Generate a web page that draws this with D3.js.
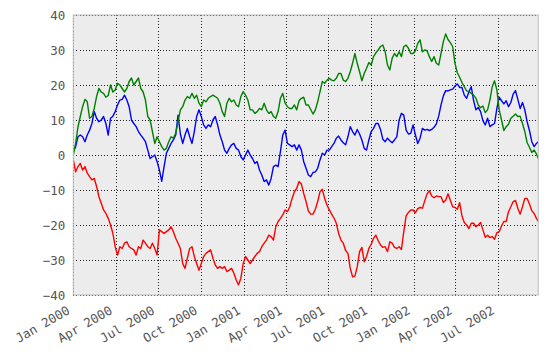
<!DOCTYPE html>
<html>
<head>
<meta charset="utf-8">
<script src="https://cdn.jsdelivr.net/npm/d3@7"></script>
<style>
  html, body { margin: 0; padding: 0; background: #ffffff; }
  svg text { font-family: "DejaVu Sans Mono", "Liberation Mono", monospace; }
</style>
</head>
<body>
<svg id="chart" width="548" height="357"></svg>
<script>
// ---- data (one sample every 5 days, plus the last day) ----
const startDate = "2000-01-01";
const sampleStepDays = 5;
const lastDay = 999;

const blueValues = [
  1, 2.4, 5.2, 5.7, 5.2, 3.8, 5.7, 7.1, 9, 12.4,
  10.5, 9.5, 10, 11, 9, 5.7, 10.5, 11.1, 12.4, 14.3,
  15.7, 15.9, 17.1, 15.7, 13.8, 10, 9, 8.1, 6.7, 5.7,
  4.8, 3.8, 1.4, -1, -0.5, 0, -1.9, -4.3, -7.5, -3.3,
  0.5, 1.9, 3.3, 4.3, 5.7, 11.4, 6, 3.3, 5.7, 7.6,
  5.2, 3.3, 6.7, 11, 12.9, 11, 8.6, 7.6, 8.6, 8.1,
  10, 11, 8.6, 5.7, 3.8, 1.4, 0.5, 1.9, 2.9, 3.3,
  1.9, 1.4, -0.5, -1.4, 0, 1.4, 0, -1, -2.4, -1.9,
  -4.3, -5.7, -7.6, -7.1, -8.6, -6.7, -3.3, -2.9, -3.3, 1,
  5.7, 7.1, 3.3, 2.9, 2.4, 2.9, 1.4, 2.9, 1.4, -1.9,
  -3.8, -5.7, -6.2, -5, -4.8, -3.8, -1.4, 0.5, 0, 1.4,
  1.4, 2.4, 3.3, 4.8, 5.4, 4.3, 3.5, 2.9, 5.2, 8.1,
  6.7, 5.7, 7.3, 6, 4.3, 1.9, 1.4, 4.3, 6.7, 7.6,
  9, 9, 7.3, 4.5, 3.8, 4.8, 4.1, 3.5, 4.3, 5.2,
  10, 11.9, 11.4, 7.1, 6, 6.2, 8.6, 5.7, 3.3, 4.8,
  7.6, 7.1, 7.3, 7, 7.3, 7.9, 8.9, 11.1, 14.3, 16.9,
  18.4, 18.3, 18.6, 18.8, 19.7, 20.3, 19.3, 19.3, 17.1, 16.2,
  18.1, 19.5, 15.5, 12.9, 13.6, 12.4, 9.8, 8.6, 10.5, 8.1,
  8.6, 9, 13.3, 16.5, 15.5, 14.6, 15.5, 13.8, 15, 17.4,
  18.4, 15.9, 13.3, 15, 12.9, 9.5, 7, 3.8, 2.4, 3.3,
  3.8
];

const greenValues = [
  0, 3.3, 8, 11, 13.8, 15.9, 15.2, 10.5, 11, 13.3,
  16.7, 19, 18, 17.6, 16.5, 17, 20, 18, 18.6, 20.5,
  20, 19, 18, 19, 21, 22, 20, 21, 22, 19,
  18, 15.7, 11, 10, 6.7, 3.3, 5.2, 3.8, 2.4, 1.4,
  1.9, 3.8, 5.2, 4.8, 6.2, 9.5, 12.9, 13.8, 15.7, 16.7,
  16.2, 17.6, 16.2, 17.1, 14.8, 13.8, 15.7, 15.2, 16.2, 16.7,
  17.1, 16.7, 16.2, 14.8, 12.4, 11, 14.8, 16.2, 15.2, 15.7,
  14.3, 13.8, 16.7, 18.1, 17.1, 15.7, 12.9, 12.9, 11.9, 12.4,
  13.3, 12.9, 14.8, 12.9, 11.9, 12.4, 11, 10.5, 12.4, 16.2,
  17.6, 14.8, 13.8, 13.3, 13.3, 14.3, 12.9, 15.5, 16.2, 16.5,
  14.3, 14.3, 13, 11.7, 12.9, 15.2, 18.1, 21, 20.5, 21.4,
  21.9, 21.4, 21.2, 21.9, 23.3, 23.3, 21.4, 21, 21.9, 23.8,
  26.2, 29, 26.2, 23.8, 21.2, 23.3, 24.8, 26.4, 25.7, 28.1,
  29.2, 30, 31, 31.4, 29.5, 25.7, 24.3, 27.6, 29, 28.1,
  29.5, 28.1, 31, 31.4, 30.5, 29, 29, 29.8, 31.9, 32.9,
  29.5, 30, 29.8, 28.1, 26.7, 28.1, 26.2, 25.7, 29, 32.4,
  34.6, 33, 32.1, 31, 26.2, 23.5, 22.2, 20.7, 19.5, 18.3,
  18.1, 17.6, 17.1, 16.2, 14.3, 13.5, 14, 12.1, 12.9, 15.7,
  19.5, 21.2, 18.6, 12.9, 10, 7, 8.1, 8.8, 10.5, 11.1,
  11.7, 11, 11.1, 9, 6.7, 3.5, 2.2, 0.7, 1.4, 0.3,
  -1
];

const redValues = [
  -1.4, -4.8, -3.3, -2.4, -4.3, -3.3, -5.2, -6.2, -7.1, -6.7,
  -9, -11.9, -13.8, -15.7, -16.7, -18.1, -20, -22.4, -26.2, -28.6,
  -26.2, -26.7, -25.2, -24.8, -26.2, -26.7, -27.1, -28.6, -26.2, -26.7,
  -24.3, -25.2, -26.2, -26.7, -25.2, -26.7, -28.6, -21.4, -21.9, -22.4,
  -21.9, -21.4, -20.5, -21.9, -23.8, -25.2, -26.7, -31, -32.4, -29.5,
  -26.7, -26.2, -29, -31, -32.9, -31, -29, -28.1, -27.6, -27.1,
  -29.5, -31.4, -32.4, -31.9, -32.4, -31.9, -33.3, -32.9, -32.4, -33.8,
  -35.7, -37.1, -35.2, -31, -29, -30, -31, -30, -29, -28.1,
  -27.6, -26.2, -25.2, -24.3, -22.9, -23.3, -24.3, -20.5, -19, -18.1,
  -17.1, -15.7, -16.2, -14.8, -12.4, -10.5, -9.5, -7.6, -8.3, -11,
  -13.3, -16, -16.9, -16.9, -15.5, -13.3, -10.5, -9.8, -12.4, -14.3,
  -15.7, -16.9, -18, -19.5, -22.4, -24.3, -25.2, -27.3, -28.1, -32.4,
  -34.8, -34.6, -31.9, -27.6, -26.4, -30.5, -29, -26.7, -25.5, -23.8,
  -22.9, -24.5, -25.7, -26.4, -26.2, -27.6, -24.8, -25.2, -26.4, -26.7,
  -26.2, -27, -21.9, -17.4, -16.4, -15.7, -15.7, -16.5, -15.3, -15,
  -15.2, -13.1, -11.1, -10.2, -11.7, -12.2, -11.7, -11.9, -11.9, -13.6,
  -12.9, -11.1, -12.9, -14.8, -15, -15.5, -13.6, -17.4, -19.3, -20,
  -21, -19.5, -19.5, -20.5, -20, -19.3, -21.4, -23.5, -22.9, -23.6,
  -23.3, -24.1, -22.2, -21.9, -20.3, -19, -19, -16.2, -14.8, -13.3,
  -13, -15.2, -16.9, -14.8, -12.4, -12.4, -14, -15.9, -16.7, -18.1,
  -19
];

const yTickValues = [-40, -30, -20, -10, 0, 10, 20, 30, 40];
const xTickDates = ["2000-01-01", "2000-04-01", "2000-07-01", "2000-10-01",
                    "2001-01-01", "2001-04-01", "2001-07-01", "2001-10-01",
                    "2002-01-01", "2002-04-01", "2002-07-01"];
const xTickLabels = ["Jan 2000", "Apr 2000", "Jul 2000", "Oct 2000",
                     "Jan 2001", "Apr 2001", "Jul 2001", "Oct 2001",
                     "Jan 2002", "Apr 2002", "Jul 2002"];

// ---- layout / style ----
const plot = { left: 73.3, right: 538.3, top: 15, bottom: 295 };
const colors = { blue: "#0000ff", green: "#008000", red: "#ff0000" };

const svg = d3.select("#chart");
const parse = d3.utcParse("%Y-%m-%d");
const start = parse(startDate);

const sampleDays = d3.range(0, lastDay + 1, sampleStepDays).filter(d => d <= lastDay);
if (sampleDays[sampleDays.length - 1] !== lastDay) sampleDays.push(lastDay);
const sampleDates = sampleDays.map(d => d3.utcDay.offset(start, d));

const x = d3.scaleUtc()
  .domain([start, d3.utcDay.offset(start, lastDay)])
  .range([plot.left, plot.right]);
const y = d3.scaleLinear()
  .domain([-40, 40])
  .range([plot.bottom, plot.top]);

// background
svg.append("rect")
  .attr("x", plot.left).attr("y", plot.top)
  .attr("width", plot.right - plot.left).attr("height", plot.bottom - plot.top)
  .attr("fill", "#ececec");

// grid
const grid = svg.append("g").attr("stroke", "#222").attr("stroke-width", 1)
  .attr("stroke-dasharray", "1,2.1").attr("shape-rendering", "crispEdges");
const xTicks = xTickDates.map(parse);
grid.selectAll("line.vx").data(xTicks).join("line")
  .attr("x1", d => Math.round(x(d)) + 0.5).attr("x2", d => Math.round(x(d)) + 0.5)
  .attr("y1", plot.top).attr("y2", plot.bottom);
grid.selectAll("line.hy").data(yTickValues).join("line")
  .attr("y1", d => Math.round(y(d)) + 0.5).attr("y2", d => Math.round(y(d)) + 0.5)
  .attr("x1", plot.left).attr("x2", plot.right);

// lines
const clipId = "plotclip";
svg.append("clipPath").attr("id", clipId).append("rect")
  .attr("x", plot.left).attr("y", plot.top)
  .attr("width", plot.right - plot.left).attr("height", plot.bottom - plot.top);

const line = d3.line()
  .x((d, i) => x(sampleDates[i]))
  .y(d => y(d));

const seriesList = [
  { values: blueValues, color: colors.blue },
  { values: greenValues, color: colors.green },
  { values: redValues, color: colors.red }
];
svg.append("g").attr("clip-path", `url(#${clipId})`)
  .selectAll("path").data(seriesList).join("path")
  .attr("d", s => line(s.values))
  .attr("fill", "none")
  .attr("stroke", s => s.color)
  .attr("stroke-width", 1.4)
  .attr("stroke-linejoin", "round");

// frame
svg.append("rect")
  .attr("x", plot.left).attr("y", plot.top)
  .attr("width", plot.right - plot.left).attr("height", plot.bottom - plot.top)
  .attr("fill", "none").attr("stroke", "#bcbcbc").attr("stroke-width", 1);

// y axis labels (axis generator, no domain path / tick lines)
const yAxis = d3.axisLeft(y).tickValues(yTickValues).tickSize(0).tickPadding(8);
const yg = svg.append("g").attr("transform", `translate(${plot.left},0)`).call(yAxis);
yg.select(".domain").remove();
yg.selectAll("text").attr("font-size", "12.5px").attr("fill", "#555")
  .attr("font-family", '"DejaVu Sans Mono", monospace');

// x axis labels, rotated
const xAxis = d3.axisBottom(x).tickValues(xTicks)
  .tickFormat((d, i) => xTickLabels[i]).tickSize(0);
const xg = svg.append("g").attr("transform", `translate(0,${plot.bottom})`).call(xAxis);
xg.select(".domain").remove();
xg.selectAll("text")
  .attr("font-size", "12.5px").attr("fill", "#555")
  .attr("font-family", '"DejaVu Sans Mono", monospace')
  .attr("text-anchor", "end")
  .attr("y", 0).attr("dy", 0)
  .attr("transform", "translate(-3,18) rotate(-30)");
</script>
</body>
</html>
